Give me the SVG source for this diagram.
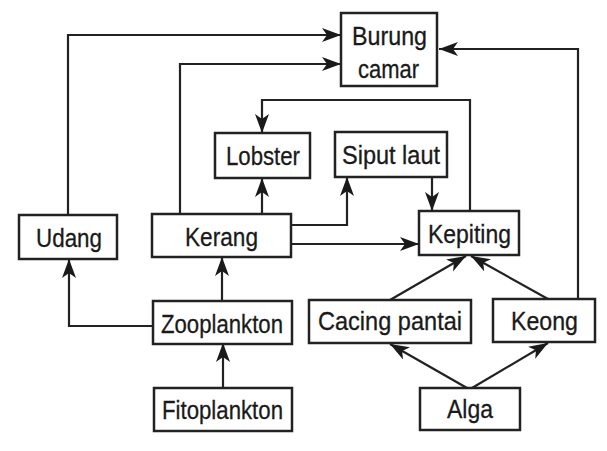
<svg xmlns="http://www.w3.org/2000/svg" width="607" height="451" viewBox="0 0 607 451">
<style>
.box{fill:#fff;stroke:#222;stroke-width:2.5}
.lbl{font-family:"Liberation Sans",Arial,sans-serif;font-size:26px;fill:#1a1a1a;stroke:#1a1a1a;stroke-width:0.3;text-anchor:middle}
.con{fill:none;stroke:#222;stroke-width:2.2;marker-end:url(#ah)}
</style>
<defs>
<marker id="ah" markerUnits="userSpaceOnUse" markerWidth="22" markerHeight="16" refX="19" refY="7" orient="auto">
<path d="M0,0 L19,7 L0,14 L5,7 z" fill="#1a1a1a"/>
</marker>
</defs>
<rect width="607" height="451" fill="#fff"/>
<g id="connectors">
<path class="con" d="M68,215 V35 H341"/>
<path class="con" d="M180,214 V64 H341"/>
<path class="con" d="M578,299 V49 H439"/>
<path class="con" d="M470,211 V100 H262 V133"/>
<path class="con" d="M262,214 V178"/>
<path class="con" d="M291,225 H347 V177"/>
<path class="con" d="M432,177 V211"/>
<path class="con" d="M291,244 H419"/>
<path class="con" d="M390,300 L466,256"/>
<path class="con" d="M548,299 L471,256"/>
<path class="con" d="M467,388 L390,344"/>
<path class="con" d="M472,388 L548,343"/>
<path class="con" d="M153,326 H69 V259"/>
<path class="con" d="M222,301 V257"/>
<path class="con" d="M223,388 V343"/>
</g>
<g id="burung-camar"><rect class="box" x="341" y="13" width="96" height="73"/><text class="lbl" x="389.5" y="45" textLength="75" lengthAdjust="spacingAndGlyphs">Burung</text><text class="lbl" x="388.5" y="78" textLength="61" lengthAdjust="spacingAndGlyphs">camar</text></g>
<g id="lobster"><rect class="box" x="215" y="133" width="95" height="45"/><text class="lbl" x="263" y="165" textLength="74" lengthAdjust="spacingAndGlyphs">Lobster</text></g>
<g id="siput-laut"><rect class="box" x="335" y="132" width="112" height="45"/><text class="lbl" x="391" y="164" textLength="98" lengthAdjust="spacingAndGlyphs">Siput laut</text></g>
<g id="udang"><rect class="box" x="19" y="215" width="98" height="44"/><text class="lbl" x="69" y="247" textLength="66" lengthAdjust="spacingAndGlyphs">Udang</text></g>
<g id="kerang"><rect class="box" x="152" y="214" width="139" height="43"/><text class="lbl" x="221.5" y="246" textLength="73" lengthAdjust="spacingAndGlyphs">Kerang</text></g>
<g id="kepiting"><rect class="box" x="419" y="211" width="100" height="44"/><text class="lbl" x="469.5" y="243" textLength="83" lengthAdjust="spacingAndGlyphs">Kepiting</text></g>
<g id="zooplankton"><rect class="box" x="153" y="301" width="139" height="43"/><text class="lbl" x="222" y="333" textLength="122" lengthAdjust="spacingAndGlyphs">Zooplankton</text></g>
<g id="cacing-pantai"><rect class="box" x="309" y="300" width="162" height="43"/><text class="lbl" x="390" y="330" textLength="144" lengthAdjust="spacingAndGlyphs">Cacing pantai</text></g>
<g id="keong"><rect class="box" x="493" y="299" width="102" height="43"/><text class="lbl" x="544.5" y="330" textLength="67" lengthAdjust="spacingAndGlyphs">Keong</text></g>
<g id="fitoplankton"><rect class="box" x="154" y="388" width="138" height="43"/><text class="lbl" x="222.5" y="419" textLength="121" lengthAdjust="spacingAndGlyphs">Fitoplankton</text></g>
<g id="alga"><rect class="box" x="420" y="388" width="100" height="42"/><text class="lbl" x="470" y="418" textLength="46" lengthAdjust="spacingAndGlyphs">Alga</text></g>
</svg>
